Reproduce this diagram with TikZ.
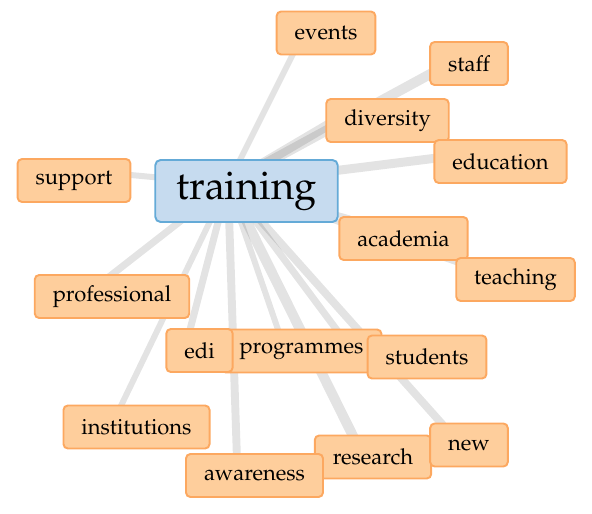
\documentclass[tikz,border=0pt]{standalone}
\usepackage[T1]{fontenc}
\usepackage{mathpazo}
\usepackage{xcolor}
\usepackage{tikz}
\definecolor{wordFill}{RGB}{254,206,156}
\definecolor{wordFrame}{RGB}{252,168,96}
\definecolor{hubFill}{RGB}{198,219,239}
\definecolor{hubFrame}{RGB}{100,170,215}

\tikzset{
    link/.style={draw=black, draw opacity=0.11, line cap=butt},
    word/.style={draw=wordFrame, fill=wordFill, line width=1.1pt, rounded corners=2.5pt,
        minimum height=0.86cm, inner xsep=0.36cm, inner ysep=0pt,
        font=\fontsize{12.5}{15}\selectfont},
    hubword/.style={draw=hubFrame, fill=hubFill, line width=1.1pt, rounded corners=3pt,
        minimum height=1.24cm, inner xsep=0.42cm, inner ysep=0pt,
        font=\fontsize{22.7}{26}\selectfont}
}

\begin{document}
\begin{tikzpicture}[x=0.02cm, y=-0.02cm]
    \useasboundingbox (0,0) rectangle (592,514);

    % edges from the hidden hub point
    \coordinate (hub) at (228,184);
    \foreach \name/\px/\py/\w in {events/300/40/3.4pt, staff/445/66/5.7pt,
        diversity/345/115/5.7pt, education/445/157/5.1pt, support/120/174/3.4pt,
        academia/350/218/2.8pt, teaching/459/263/3.4pt, professional/105/280/4pt,
        institutions/118/412/3.4pt, edi/186/345/4pt, awareness/237/460/4.5pt,
        programmes/285/350/3.4pt, research/355/440/5.7pt, students/348/345/4pt,
        new/443/425/4.5pt}
    {
        \coordinate (p-\name) at (\px,\py);
        \draw[link, line width=\w] (hub) -- (p-\name);
    }

    % labels
    \node[word] (events) at (326,33) {events};
    \node[word] (staff) at (469,63.5) {staff};
    \node[word] (diversity) at (387.5,120.5) {diversity};
    \node[word] (education) at (500.5,161.5) {education};
    \node[word] (support) at (74,180.5) {support};
    \node[hubword] (training) at (246.5,191) {training};
    \node[word] (academia) at (403.5,238.5) {academia};
    \node[word] (teaching) at (515.5,279.5) {teaching};
    \node[word] (professional) at (112,296.5) {professional};
    \node[word] (programmes) at (301.5,351) {programmes};
    \node[word] (edi) at (199.5,350.5) {edi};
    \node[word] (students) at (427,357) {students};
    \node[word] (institutions) at (136.5,427) {institutions};
    \node[word] (research) at (373,457) {research};
    \node[word] (awareness) at (254.5,475.5) {awareness};
    \node[word] (new) at (469,445) {new};
\end{tikzpicture}
\end{document}
